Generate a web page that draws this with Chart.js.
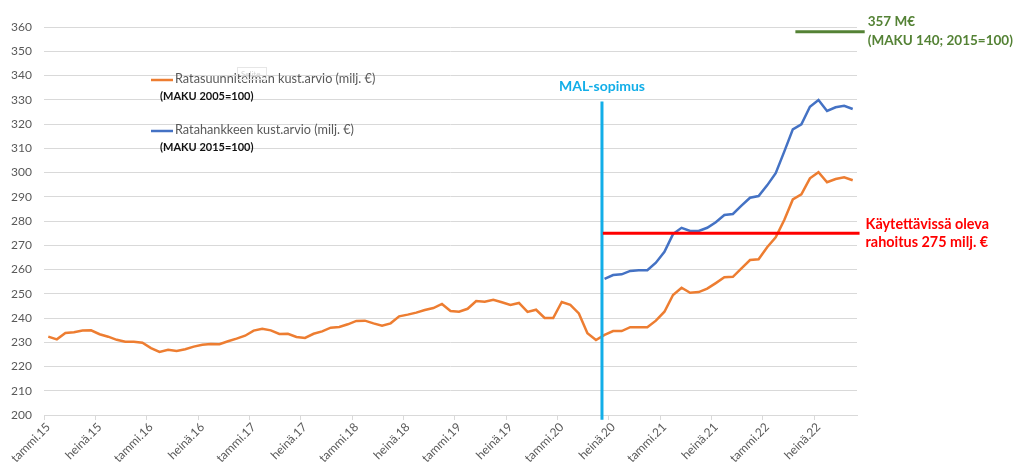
<!DOCTYPE html>
<html>
<head>
<meta charset="utf-8">
<script src="https://cdn.jsdelivr.net/npm/chart.js@4/dist/chart.umd.min.js"></script>
<style>
  html, body { margin: 0; padding: 0; background: #fff; }
  #wrap { width: 1020px; height: 469px; position: relative; }
</style>
</head>
<body>
<div id="wrap"><canvas id="kustannukset"></canvas></div>
<script>
// Ratasuunnitelman kustannusarvio, kuukausittain tammi.15 - marras.22 (milj. €)
const ratasuunnitelma = [
    232.3, 231.2, 233.8, 234.1, 234.8, 234.9, 233.3, 232.3, 231.0, 230.2, 230.2, 229.8,
    227.6, 226.0, 226.9, 226.4, 227.1, 228.2, 229.0, 229.3, 229.2, 230.4, 231.5, 232.7,
    234.8, 235.6, 234.9, 233.4, 233.5, 232.2, 231.8, 233.5, 234.5, 236.0, 236.3, 237.4,
    238.8, 238.9, 237.8, 236.8, 237.8, 240.7, 241.4, 242.2, 243.3, 244.1, 245.8, 242.9,
    242.6, 243.8, 247.0, 246.7, 247.5, 246.5, 245.4, 246.2, 242.5, 243.4, 240.0, 240.0,
    246.6, 245.4, 241.9, 233.7, 230.9, 233.0, 234.6, 234.6, 236.2, 236.2, 236.2, 238.9,
    242.6, 249.5, 252.5, 250.4, 250.7, 252.1, 254.4, 256.8, 257.0, 260.5, 263.9, 264.2,
    269.2, 273.3, 280.4, 288.9, 291.0, 297.6, 300.1, 296.0, 297.3, 298.0, 296.8
];

// Ratahankkeen kustannusarvio alkaa kesä.20 (kuukausi 65)
const ratahankeStart = 65;
const ratahanke = [
    256.1, 257.7, 258.0, 259.4, 259.7, 259.7, 262.8, 267.3, 274.6, 277.2,
    275.9, 275.9, 277.2, 279.5, 282.5, 282.9, 286.3, 289.6, 290.3, 294.7,
    299.7, 308.6, 317.8, 319.9, 327.1, 329.9, 325.4, 326.9, 327.5, 326.2
];

const tickLabels = [
    'tammi.15', 'heinä.15', 'tammi.16', 'heinä.16', 'tammi.17', 'heinä.17',
    'tammi.18', 'heinä.18', 'tammi.19', 'heinä.19', 'tammi.20', 'heinä.20',
    'tammi.21', 'heinä.21', 'tammi.22', 'heinä.22'
];

// viitaviivat
const malX = 64.7;
const malRange = [198, 329.3];
const rahoitus = 275;
const rahoitusRange = [64.8, 94.8];
const maku140 = 358;
const maku140Range = [87.3, 95.4];

const ORANGE = '#ed7d31';
const BLUE = '#4472c4';
const CYAN = '#12aee8';
const RED = '#ff0000';
const GREEN = '#548235';
const FONT = 'Lato, "Open Sans", sans-serif';

// Tekstit: selite + huomautukset
const annotationText = {
    id: 'annotationText',
    afterDraw(chart) {
        const { ctx, scales: { x, y } } = chart;
        ctx.save();
        ctx.textBaseline = 'middle';

        // selite
        ctx.lineWidth = 2.5;
        ctx.strokeStyle = ORANGE;
        ctx.beginPath(); ctx.moveTo(151, 80); ctx.lineTo(173, 80); ctx.stroke();
        ctx.strokeStyle = BLUE;
        ctx.beginPath(); ctx.moveTo(151, 131); ctx.lineTo(173, 131); ctx.stroke();

        ctx.fillStyle = '#595959';
        ctx.font = '12.7px ' + FONT;
        ctx.textAlign = 'left';
        ctx.fillText('Ratasuunnitelman kust.arvio (milj. €)', 175, 79);
        ctx.fillText('Ratahankkeen kust.arvio (milj. €)', 175, 130);
        ctx.fillStyle = '#111';
        ctx.font = 'bold 11px ' + FONT;
        ctx.fillText('(MAKU 2005=100)', 160, 96);
        ctx.fillText('(MAKU 2015=100)', 160, 147);

        // haalea "Selite" -laatikko
        ctx.strokeStyle = '#e6e6e6';
        ctx.lineWidth = 1;
        ctx.strokeRect(237.5, 67.5, 29, 12);
        ctx.fillStyle = '#d4d4d4';
        ctx.font = '8px ' + FONT;
        ctx.fillText('Selite', 241, 74);

        // MAL-sopimus
        ctx.fillStyle = CYAN;
        ctx.font = 'bold 14px ' + FONT;
        ctx.textAlign = 'center';
        ctx.fillText('MAL-sopimus', x.getPixelForValue(malX), y.getPixelForValue(malRange[1]) - 15);

        // rahoitus
        const rx = x.getPixelForValue(rahoitusRange[1]) + 6;
        const ry = y.getPixelForValue(rahoitus);
        ctx.fillStyle = RED;
        ctx.textAlign = 'left';
        ctx.font = 'bold 14.4px ' + FONT;
        ctx.fillText('Käytettävissä oleva', rx, ry - 9);
        ctx.fillText('rahoitus 275 milj. €', rx, ry + 9);

        // 357 M€
        const gx = x.getPixelForValue(maku140Range[1]) + 3;
        const gy = y.getPixelForValue(maku140);
        ctx.fillStyle = GREEN;
        ctx.font = 'bold 13.5px ' + FONT;
        ctx.fillText('357 M€', gx, gy - 10);
        ctx.fillText('(MAKU 140; 2015=100)', gx, gy + 9);
        ctx.restore();
    }
};

const line = (data, color, width, extra = {}) => Object.assign({
    data,
    borderColor: color,
    backgroundColor: color,
    borderWidth: width,
    pointRadius: 0,
    tension: 0,
    fill: false
}, extra);

new Chart(document.getElementById('kustannukset'), {
    type: 'line',
    data: {
        datasets: [
            line(rahoitusRange.map(v => ({ x: v, y: rahoitus })), RED, 3, { clip: false }),
            line(malRange.map(v => ({ x: malX, y: v })), CYAN, 3, { clip: false }),
            line(maku140Range.map(v => ({ x: v, y: maku140 })), GREEN, 3, { clip: false }),
            line(ratahanke.map((v, i) => ({ x: ratahankeStart + i, y: v })), BLUE, 2.5),
            line(ratasuunnitelma.map((v, i) => ({ x: i, y: v })), ORANGE, 2.5)
        ]
    },
    options: {
        responsive: true,
        maintainAspectRatio: false,
        animation: false,
        layout: { padding: { top: 27, right: 163, left: 0, bottom: 0 } },
        plugins: {
            legend: { display: false },
            tooltip: { enabled: false }
        },
        scales: {
            x: {
                type: 'linear',
                min: -0.5,
                max: 94.5,
                afterBuildTicks: scale => {
                    scale.ticks = tickLabels.map((_, k) => ({ value: k * 6 - 0.5 }));
                },
                afterFit: scale => { scale.height = 54; },
                grid: { drawOnChartArea: false, color: '#d9d9d9', tickLength: 5 },
                border: { color: '#d9d9d9' },
                ticks: {
                    autoSkip: false,
                    minRotation: 45,
                    maxRotation: 45,
                    labelOffset: 4.3,
                    padding: 0,
                    color: '#595959',
                    font: { family: FONT, size: 12 },
                    callback: (v, i) => tickLabels[i]
                }
            },
            y: {
                min: 200,
                max: 360,
                afterFit: scale => { scale.width = 44; },
                grid: { color: '#d9d9d9', drawTicks: false },
                border: { display: false },
                ticks: {
                    stepSize: 10,
                    padding: 12,
                    color: '#595959',
                    font: { family: FONT, size: 12 }
                }
            }
        }
    },
    plugins: [annotationText]
});
</script>
</body>
</html>
